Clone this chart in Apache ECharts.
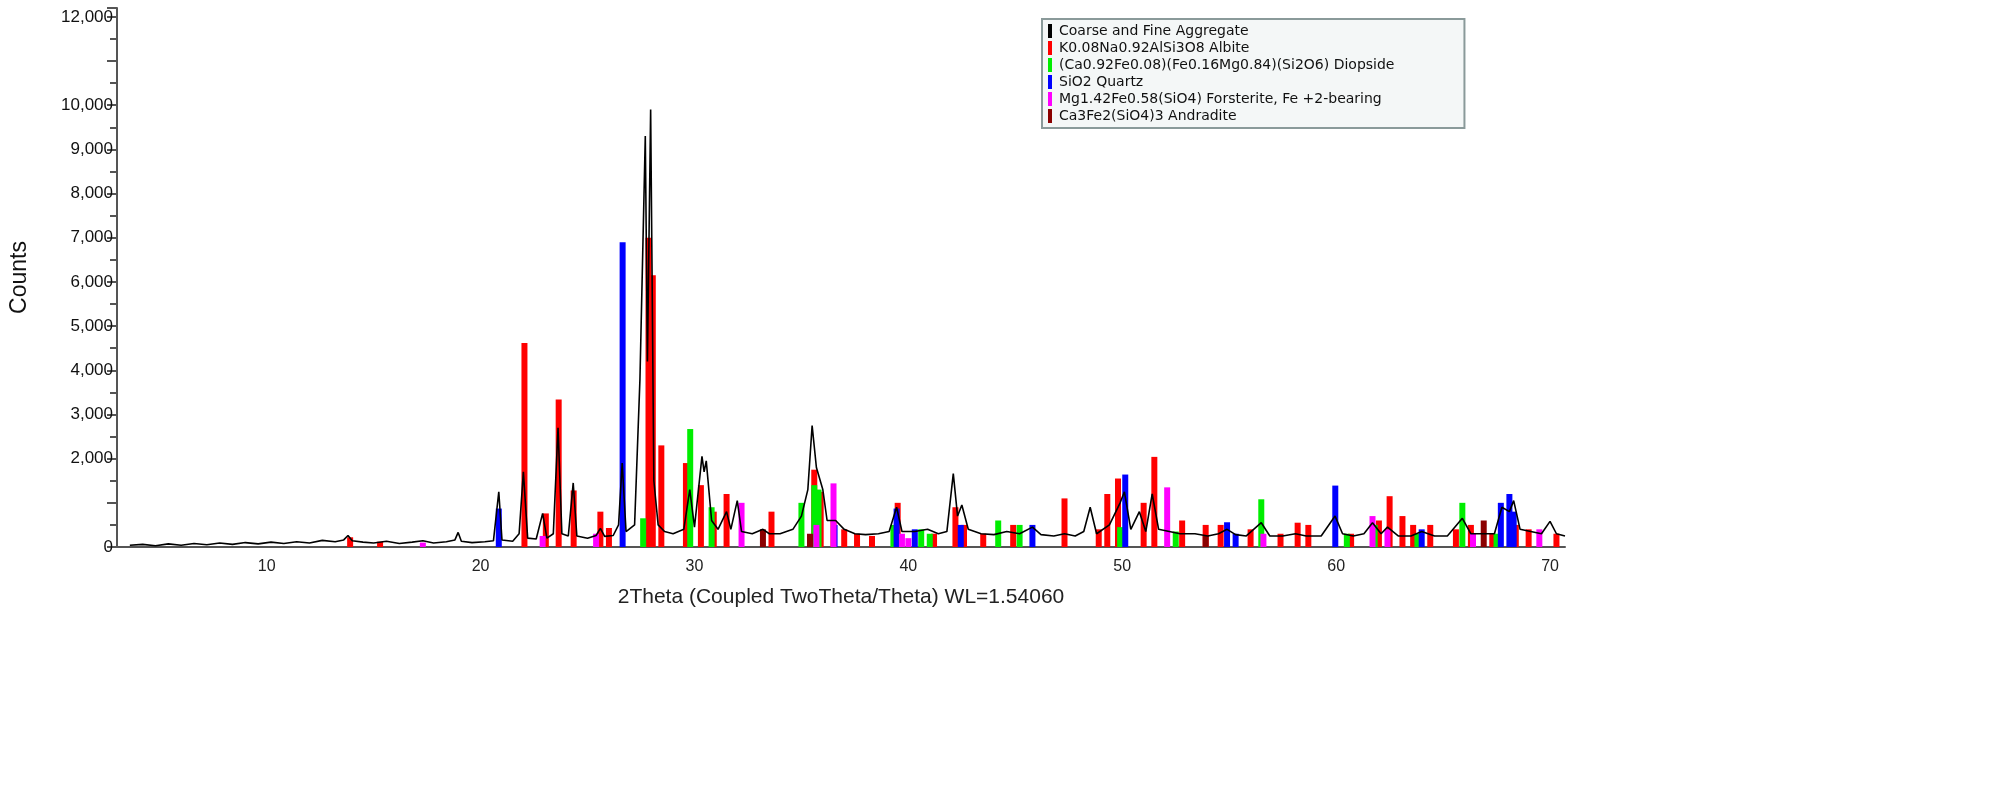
<!DOCTYPE html>
<html>
<head>
<meta charset="utf-8">
<script src="https://cdn.jsdelivr.net/npm/echarts@6/dist/echarts.min.js"></script>
<style>
  html, body { margin: 0; padding: 0; background: #fff; }
  #chart { width: 2000px; height: 802px; }
</style>
</head>
<body>
<div id="chart"></div>
<script>
// measured pattern (2theta, counts)
const measured = [
  [3.6,40],[4.2,60],[4.8,30],[5.4,70],[6.0,40],[6.6,80],[7.2,50],[7.8,90],[8.4,60],[9.0,100],
  [9.6,70],[10.2,110],[10.8,80],[11.4,120],[12.0,90],[12.6,150],[13.2,120],[13.6,160],[13.8,260],[14.0,140],
  [14.5,110],[15.0,90],[15.6,130],[16.2,80],[16.8,110],[17.3,140],[17.8,90],[18.4,120],[18.8,160],[18.95,330],
  [19.1,130],[19.6,100],[20.2,120],[20.6,140],[20.85,1250],[21.0,160],[21.5,130],[21.8,300],[22.0,1700],[22.2,200],
  [22.6,180],[22.9,760],[23.1,200],[23.4,300],[23.62,2700],[23.8,300],[24.1,250],[24.33,1450],[24.5,250],[25.0,200],
  [25.4,260],[25.6,420],[25.8,240],[26.2,260],[26.45,500],[26.62,1900],[26.8,350],[27.2,500],[27.45,3800],[27.7,9300],
  [27.8,4200],[27.95,9900],[28.1,1500],[28.3,500],[28.6,350],[29.0,300],[29.5,400],[29.78,1300],[30.0,450],[30.35,2050],
  [30.45,1700],[30.55,1950],[30.8,600],[31.1,400],[31.5,800],[31.7,400],[32.0,1050],[32.2,350],[32.7,300],[33.2,400],
  [33.5,300],[34.0,300],[34.6,400],[35.0,700],[35.3,1300],[35.5,2750],[35.7,1800],[36.0,1300],[36.2,600],[36.6,600],
  [37.0,400],[37.5,300],[38.0,280],[38.6,300],[39.1,350],[39.45,900],[39.7,350],[40.3,350],[40.9,400],[41.4,300],
  [41.8,350],[42.1,1660],[42.3,700],[42.5,950],[42.8,400],[43.4,300],[44.0,280],[44.6,350],[45.2,300],[45.8,450],
  [46.2,280],[46.8,250],[47.3,300],[47.8,250],[48.2,350],[48.5,900],[48.8,300],[49.4,500],[49.9,1000],[50.1,1250],
  [50.4,400],[50.8,800],[51.1,350],[51.4,1200],[51.7,400],[52.2,350],[52.7,300],[53.4,300],[54.0,250],[54.5,300],
  [54.9,400],[55.3,280],[55.8,250],[56.5,550],[56.9,250],[57.5,250],[58.1,300],[58.6,250],[59.3,250],[59.95,700],
  [60.3,300],[60.8,250],[61.3,300],[61.7,550],[62.1,300],[62.4,450],[62.9,250],[63.5,250],[64.0,350],[64.6,250],
  [65.2,250],[65.9,650],[66.3,300],[66.9,300],[67.4,300],[67.75,900],[68.1,800],[68.3,1050],[68.6,400],[69.1,350],
  [69.6,300],[70.0,580],[70.3,300],[70.7,250]
];
// reference patterns (2theta, counts)
const albite = [
  [13.9,220],[15.3,120],[22.05,4620],[23.05,760],[23.65,3340],[24.35,1280],[25.6,800],[26.0,430],[27.85,7000],
  [28.05,6150],[28.45,2300],[29.6,1900],[30.3,1400],[30.9,800],[31.5,1200],[33.6,800],[35.6,1750],[35.9,1250],
  [36.5,600],[37.0,400],[37.6,300],[38.3,250],[39.5,1000],[41.2,300],[42.2,900],[42.6,500],[43.5,300],[44.9,500],
  [47.3,1100],[48.9,400],[49.3,1200],[49.8,1550],[51.0,1000],[51.5,2040],[52.8,600],[53.9,500],[54.6,500],
  [56.0,400],[57.4,300],[58.2,550],[58.7,500],[60.7,300],[62.0,600],[62.5,1150],[63.1,700],[63.6,500],[64.4,500],
  [65.6,400],[66.3,500],[67.3,300],[68.4,500],[69.0,400],[70.3,300]
];
const diopside = [
  [27.6,650],[29.8,2670],[30.8,900],[35.0,1000],[35.6,1400],[35.8,1300],[39.3,500],[40.6,400],[41.0,300],
  [44.2,600],[45.2,500],[49.9,450],[52.5,350],[56.5,1080],[60.5,300],[61.8,500],[63.8,300],[65.9,1000],[67.5,300]
];
const quartz = [
  [20.85,870],[26.64,6900],[36.55,500],[39.45,870],[40.3,400],[42.45,500],[45.8,500],[50.14,1640],
  [54.9,560],[55.3,300],[59.96,1390],[64.0,400],[67.7,1000],[68.1,1200],[68.3,800]
];
const forsterite = [
  [17.3,100],[22.9,250],[25.4,300],[32.2,1000],[35.7,500],[36.5,1440],[39.7,300],[40.0,200],[52.1,1350],
  [56.6,300],[61.7,700],[62.4,400],[66.4,300],[69.5,400]
];
const andradite = [
  [33.2,400],[35.4,300],[53.9,250],[66.9,600]
];
const legendNames = [
  'Coarse and Fine Aggregate',
  'K0.08Na0.92AlSi3O8 Albite',
  '(Ca0.92Fe0.08)(Fe0.16Mg0.84)(Si2O6) Diopside',
  'SiO2 Quartz',
  'Mg1.42Fe0.58(SiO4) Forsterite, Fe +2-bearing',
  'Ca3Fe2(SiO4)3 Andradite'
];
const colors = ['#000000', '#ff0000', '#00ee00', '#0000ff', '#ff00ff', '#8b0000'];

const chart = echarts.init(document.getElementById('chart'));
const stick = (name, data, color) => ({
  name: name, type: 'bar', data: data, barWidth: 6, barGap: '-100%',
  itemStyle: { color: color }, z: 2
});

chart.setOption({
  backgroundColor: '#fff',
  animation: false,
  grid: { left: 112, right: 435, top: 8, bottom: 255 },
  legend: {
    orient: 'vertical', left: 1042, top: 19,
    data: legendNames, icon: 'rect', itemWidth: 4, itemHeight: 14, itemGap: 3,
    padding: [5, 70, 5, 6],
    backgroundColor: '#f4f7f7', borderColor: '#8a9a9a', borderWidth: 2,
    textStyle: { fontFamily: 'DejaVu Sans', fontSize: 14, color: '#111', padding: [0, 0, 0, 2] },
    selectedMode: false
  },
  xAxis: {
    type: 'value', min: 3, max: 70.7, interval: 1,
    name: '2Theta (Coupled TwoTheta/Theta) WL=1.54060',
    nameLocation: 'middle', nameGap: 40,
    nameTextStyle: { fontFamily: 'Liberation Sans', fontSize: 21, color: '#222' },
    axisLine: { lineStyle: { color: '#555', width: 2 } },
    axisTick: { show: false },
    axisLabel: {
      fontFamily: 'Liberation Sans', fontSize: 16, color: '#222', margin: 12,
      showMinLabel: false, showMaxLabel: false, interval: 0,
      formatter: v => (Math.abs(v % 10) < 1e-6 ? String(Math.round(v)) : '')
    },
    splitLine: { show: false }
  },
  yAxis: {
    type: 'value', min: 0, max: 12200, interval: 1000,
    name: 'Counts', nameLocation: 'middle', nameGap: 86,
    nameTextStyle: { fontFamily: 'Liberation Sans', fontSize: 23, color: '#111' },
    axisLine: { show: true, lineStyle: { color: '#555', width: 2 } },
    axisTick: { show: true, length: 10, lineStyle: { color: '#555', width: 2 } },
    minorTick: { show: true, splitNumber: 2, length: 7, lineStyle: { color: '#555', width: 2 } },
    axisLabel: {
      fontFamily: 'Liberation Sans', fontSize: 17, color: '#111', margin: 4,
      formatter: v => (v === 1000 || v === 11000 ? '' : v.toLocaleString('en-US'))
    },
    splitLine: { show: false }
  },
  series: [
    {
      name: legendNames[0], type: 'line', data: measured, symbol: 'none',
      lineStyle: { color: colors[0], width: 1.6 }, itemStyle: { color: colors[0] }, z: 3
    },
    stick(legendNames[1], albite, colors[1]),
    stick(legendNames[2], diopside, colors[2]),
    stick(legendNames[3], quartz, colors[3]),
    stick(legendNames[4], forsterite, colors[4]),
    stick(legendNames[5], andradite, colors[5])
  ]
});
</script>
</body>
</html>
